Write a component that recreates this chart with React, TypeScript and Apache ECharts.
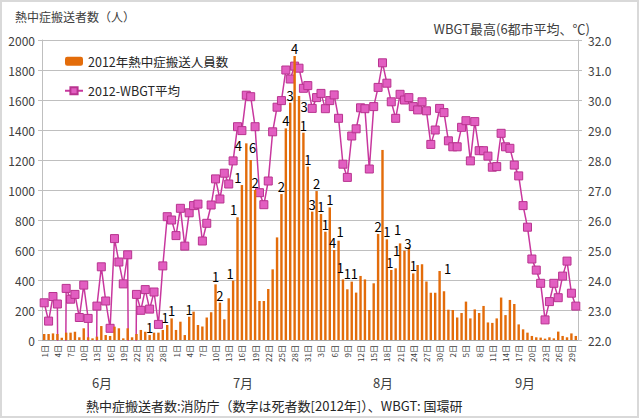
import React, { useEffect, useRef } from "react";
import * as echarts from "echarts";

// ---- data ----
const monthNames = ["6月", "7月", "8月", "9月"];
const monthLengths = [30, 31, 31, 30];
const dayLabels: string[] = [];
monthLengths.forEach((n) => {
  for (let d = 1; d <= n; d++) dayLabels.push(d + "日");
});

// 熱中症搬送人員数 (人), 2012-06-01 .. 2012-09-30
const transports = [
  40, 40, 44, 40, 15, 49, 49, 55, 18, 78, 18, 11, 22, 93, 33, 27, 89, 78, 11, 78,
  18, 40, 67, 55, 33, 49, 49, 67, 100, 144,
  67, 122, 33, 155, 189, 100, 90, 150, 185, 371, 249, 138, 278, 396, 818, 1033, 1311, 1200, 1000, 260,
  260, 340, 471, 684, 973, 1411, 1582, 1893, 1627, 1382, 1156,
  856, 993, 840, 722, 884, 600, 662, 404, 338, 389, 316, 427, 404, 200, 378, 707, 1267, 671, 467, 478,
  644, 596, 618, 444, 500, 505, 390, 315, 315, 460, 325,
  202, 200, 150, 180, 256, 144, 204, 180, 227, 117, 114, 144, 283, 166, 267, 240, 104, 71, 49, 27,
  18, 16, 9, 18, 11, 56, 27, 18, 44, 27,
];

// WBGT最高 (6都市平均, ℃); 0 = 欠測
const wbgt = [
  23.24, 22.63, 23.45, 23.2, 0, 23.72, 23.36, 23.52, 22.75, 23.83, 22.72, 0, 23.13, 24.44, 23.3, 22.39,
  25.38, 24.6, 23.87, 24.84, 0, 23.52, 22.99, 23.68, 23.03, 23.6, 22.52, 24.47, 26.11, 26.0,
  25.48, 26.39, 25.13, 26.24, 26.48, 26.53, 25.3, 25.89, 26.5, 27.37, 26.7, 27.56, 27.2, 27.97, 29.11,
  28.98, 30.16, 30.11, 29.11, 26.91, 26.51, 27.3, 28.94, 29.76, 29.98, 31.0, 30.7, 31.13, 31.06, 30.39, 30.48,
  29.72, 30.08, 30.22, 29.71, 29.98, 30.17, 29.39, 27.86, 27.42, 28.8, 29.04, 29.74, 29.71, 27.7, 29.78,
  30.42, 31.24, 30.56, 29.94, 29.39, 30.19, 30.0, 30.08, 29.78, 29.67, 29.94, 29.64, 28.52, 29.0, 29.72, 29.58,
  28.64, 28.44, 28.44, 29.09, 29.31, 27.97, 29.28, 28.31, 28.31, 28.13, 27.76, 27.78, 28.89, 28.44, 28.39,
  27.83, 27.47, 26.48, 25.76, 24.7, 24.33, 23.89, 22.67, 23.28, 23.89, 23.41, 24.13, 24.63, 23.56, 23.13,
];

// 死者数 (day index, count)
const deathDays = [24, 28, 29, 33, 39, 40, 43, 44, 45, 46, 47, 48, 54, 55, 56, 57, 58, 59, 60, 61, 62, 63, 64, 65, 66, 67, 68, 69, 70, 76, 78, 79, 80, 81, 82, 84, 90];
const deathCounts = [1, 1, 1, 1, 1, 2, 1, 1, 1, 4, 6, 2, 2, 4, 3, 4, 3, 1, 1, 3, 2, 1, 1, 1, 4, 1, 1, 1, 1, 2, 1, 1, 1, 1, 3, 1, 1];

const leftTicks = { min: 0, max: 2000, interval: 200 };
const rightTicks = { min: 22, max: 32, interval: 1 };

const seriesNames = ["2012年熱中症搬送人員数", "2012-WBGT平均"];
const leftTitle = "熱中症搬送者数（人）";
const rightTitle = "WBGT最高(6都市平均、℃)";
const sourceNote = "熱中症搬送者数:消防庁（数字は死者数[2012年]）、WBGT: 国環研";

// ---- layout (not data) ----
const monthLabelX = [102, 243, 383, 525];
// manual nudges of death-count labels (as in the original, where labels were moved by hand)
const labelNudge: Record<number, [number, number]> = {
  28: [-2, 0],
  43: [-3, 0],
  44: [-4, 0],
  45: [-4, 0],
  46: [-8, 10],
  47: [2, -5],
  58: [5, 18],
  66: [-1.5, 0],
  67: [1.5, -2],
  68: [-2.5, -4],
  69: [0, -8],
  70: [2.5, -1],
  79: [-1.5, 0],
  80: [1, -10],
  81: [-2.5, -6],
  82: [3.5, 0],
  90: [8, 5],
};
const FONT = "'Noto Sans CJK JP', 'Noto Sans', sans-serif";
const TXT = "#404040";

export default function App() {
  const ref = useRef<HTMLDivElement>(null);
  useEffect(() => {
    if (!ref.current) return;
    const chart = echarts.init(ref.current, undefined, { renderer: "svg" });
    const deathMap: Record<number, number> = {};
    deathDays.forEach((d, k) => (deathMap[d] = deathCounts[k]));

    const barData = transports.map((v, i) => {
      const n = deathMap[i];
      if (!n) return { value: v, label: { show: false } };
      return { value: v, label: { show: true, formatter: String(n) } };
    });

    const graphics: any[] = [
      {
        type: "rect",
        shape: { x: 1, y: 1, width: 637, height: 416 },
        style: { fill: "none", stroke: "#d9d9d9", lineWidth: 2 },
        silent: true,
      },
      {
        type: "text",
        x: 15,
        y: 16,
        style: { text: leftTitle, fill: TXT, font: `12px ${FONT}`, textVerticalAlign: "middle" },
      },
      {
        type: "text",
        x: 590,
        y: 28,
        style: { text: rightTitle, fill: TXT, font: `13px ${FONT}`, textAlign: "right", textVerticalAlign: "middle" },
      },
      {
        type: "text",
        x: 86,
        y: 405,
        style: { text: sourceNote, fill: "#262626", font: `13px ${FONT}`, textVerticalAlign: "middle" },
      },
      ...monthNames.map((m, k) => ({
        type: "text",
        x: monthLabelX[k],
        y: 382,
        style: { text: m, fill: TXT, font: `13px ${FONT}`, textAlign: "center", textVerticalAlign: "middle" },
      })),
    ];

    chart.setOption({
      animation: false,
      textStyle: { fontFamily: FONT },
      grid: { left: 42, right: 64, top: 40, bottom: 80, containLabel: false },
      legend: {
        orient: "vertical",
        left: 59,
        top: 50,
        itemGap: 17,
        itemWidth: 18,
        itemHeight: 9,
        textStyle: { fontSize: 12.5, color: "#262626", fontFamily: FONT },
        data: seriesNames,
      },
      xAxis: {
        type: "category",
        data: dayLabels,
        boundaryGap: true,
        axisLine: { lineStyle: { color: "#a6a6a6" } },
        axisTick: { show: false },
        axisLabel: { interval: 2, rotate: 90, fontSize: 8, color: TXT, margin: 5, fontFamily: FONT },
      },
      yAxis: [
        {
          type: "value",
          ...leftTicks,
          axisLine: { show: true, lineStyle: { color: "#bfbfbf" } },
          axisTick: { show: true, length: 4, lineStyle: { color: "#bfbfbf" } },
          axisLabel: { fontSize: 12, color: TXT, margin: 7, fontFamily: FONT, formatter: (v: number) => String(v) },
          splitLine: { lineStyle: { color: "#bfbfbf", width: 1 } },
        },
        {
          type: "value",
          ...rightTicks,
          position: "right",
          axisLine: { show: true, lineStyle: { color: "#bfbfbf" } },
          axisTick: { show: true, length: 4, lineStyle: { color: "#bfbfbf" } },
          axisLabel: { fontSize: 12, color: TXT, margin: 10, fontFamily: FONT, formatter: (v: number) => v.toFixed(1) },
          splitLine: { show: false },
        },
      ],
      series: [
        {
          name: seriesNames[0],
          type: "bar",
          yAxisIndex: 0,
          data: barData,
          barWidth: "55%",
          z: 3,
          itemStyle: { color: "#E36C0A" },
          label: {
            show: true,
            position: "top",
            distance: 1,
            fontSize: 13,
            color: "#000",
            fontFamily: FONT,
          },
          labelLayout: (p: any) => {
            const n = labelNudge[p.dataIndex];
            return n ? { dx: n[0], dy: n[1], hideOverlap: false } : { hideOverlap: false };
          },
        },
        {
          name: seriesNames[1],
          type: "line",
          yAxisIndex: 1,
          data: wbgt,
          clip: true,
          z: 2,
          symbol: "rect",
          symbolSize: 8,
          showAllSymbol: true,
          lineStyle: { color: "#C8379E", width: 1.5 },
          itemStyle: { color: "#E25EC1", borderColor: "#B8338F", borderWidth: 1 },
        },
      ],
      graphic: graphics,
    });
    return () => chart.dispose();
  }, []);
  return (
    <div
      ref={ref}
      style={{ position: "fixed", left: 0, top: 0, width: 642, height: 420, background: "#fff" }}
    />
  );
}
